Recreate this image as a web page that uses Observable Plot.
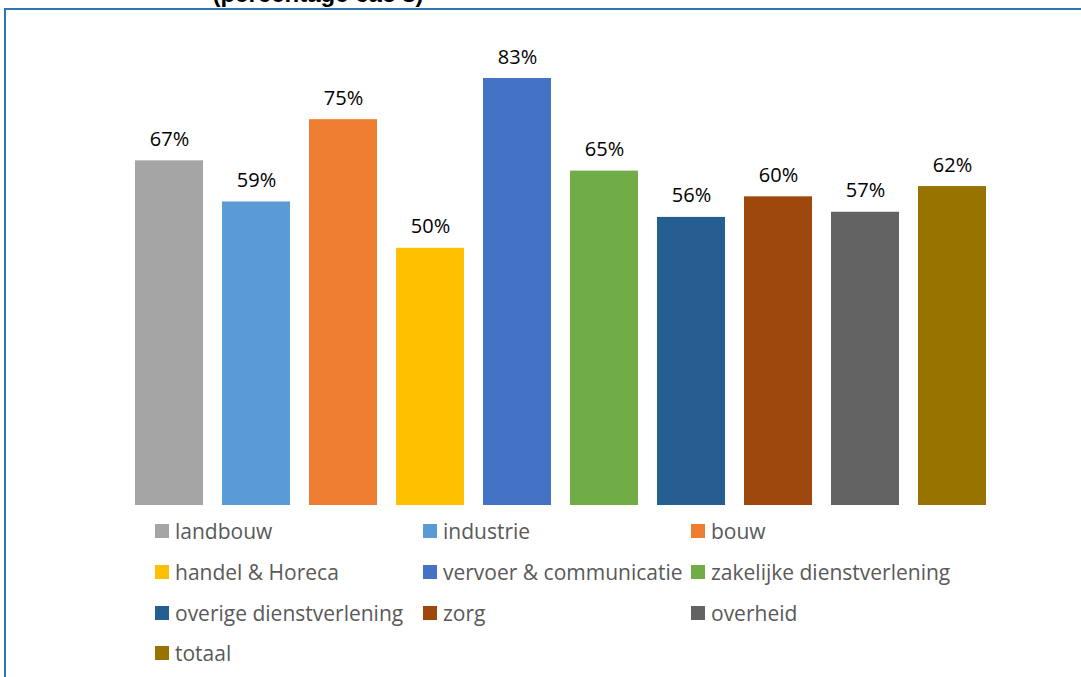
<!DOCTYPE html>
<html>
<head>
<meta charset="utf-8">
<script src="https://cdn.jsdelivr.net/npm/d3@7"></script>
<script src="https://cdn.jsdelivr.net/npm/@observablehq/plot@0.6"></script>
<style>
  html, body { margin: 0; padding: 0; background: #fff; }
  body { width: 1081px; height: 677px; position: relative; overflow: hidden; font-family: "Open Sans", sans-serif; }
  #frame { position: absolute; left: 4px; top: 8px; width: 1100px; height: 700px; border-left: 2px solid #2E75B6; border-top: 2px solid #2E75B6; }
  #title { position: absolute; left: 0; width: 636px; top: -18px; text-align: center; font-family: "Liberation Sans", Arial, sans-serif; font-weight: bold; font-size: 24px; line-height: 24px; color: #000; }
  #chart { position: absolute; left: 0; top: 0; }
  .item { position: absolute; height: 22px; display: flex; align-items: center; font-size: 21px; color: #595959; white-space: nowrap; }
  .sw { width: 14px; height: 14px; margin-right: 6px; flex: none; }
</style>
</head>
<body>
<div id="title">(percentage cao's)</div>
<div id="frame"></div>
<div id="chart"></div>
<div id="legend"></div>
<script>
const categories = ["landbouw", "industrie", "bouw", "handel & Horeca", "vervoer & communicatie", "zakelijke dienstverlening", "overige dienstverlening", "zorg", "overheid", "totaal"];
const values = [67, 59, 75, 50, 83, 65, 56, 60, 57, 62];
const colors = ["#A5A5A5", "#5B9BD5", "#ED7D31", "#FFC000", "#4472C4", "#70AD47", "#255E91", "#9E480E", "#636363", "#997300"];

const data = categories.map((c, i) => ({cat: c, value: values[i]}));

const chart = Plot.plot({
  width: 1081,
  height: 520,
  marginLeft: 116,
  marginRight: 76,
  marginTop: 42,
  marginBottom: 15,
  style: {background: "transparent", fontFamily: "Open Sans, sans-serif"},
  x: {domain: categories, padding: 0.218, axis: null},
  y: {domain: [0, 90], axis: null},
  color: {domain: categories, range: colors},
  marks: [
    Plot.barY(data, {x: "cat", y: "value", fill: "cat"}),
    Plot.text(data, {x: "cat", y: "value", text: d => d.value + "%", dy: -15, lineAnchor: "bottom", fontSize: 20, fill: "#000"})
  ]
});
document.getElementById("chart").appendChild(chart);

const legend = document.getElementById("legend");
const colX = [155, 423, 691];
const rowY = [531, 572, 613, 653];
categories.forEach((c, i) => {
  const el = document.createElement("div");
  el.className = "item";
  el.style.left = colX[i % 3] + "px";
  el.style.top = (rowY[Math.floor(i / 3)] - 11) + "px";
  const sw = document.createElement("span");
  sw.className = "sw";
  sw.style.background = colors[i];
  el.appendChild(sw);
  el.appendChild(document.createTextNode(c));
  legend.appendChild(el);
});
</script>
</body>
</html>
